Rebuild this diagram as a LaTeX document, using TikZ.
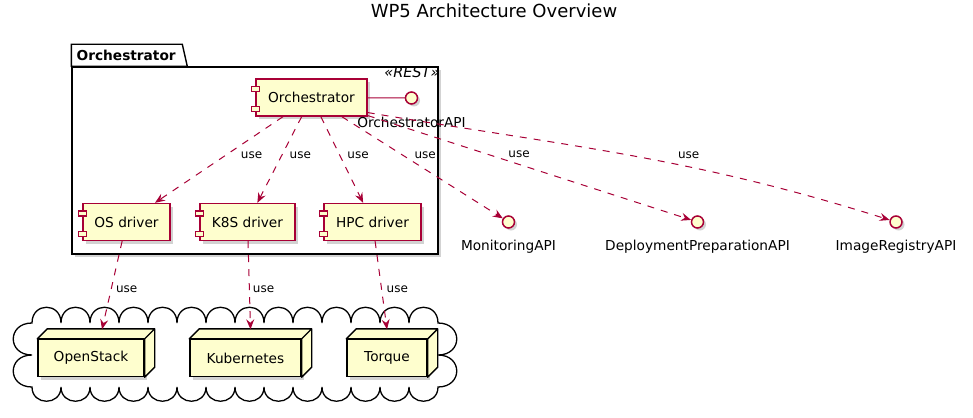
\documentclass[tikz,border=0pt]{standalone}
\usepackage{fontspec}
\setmainfont{DejaVu Sans}
\usepackage{tikz}
\usetikzlibrary{arrows.meta,shapes,positioning,shadows,calc}
\definecolor{umlred}{HTML}{A80036}
\definecolor{umlfill}{HTML}{FEFECE}
\newcommand{\umlfont}{\fontsize{13.7}{16}\selectfont}
% the two small boxes on the left edge of a component
\newcommand{\compports}[1]{%
  \draw[compport] ($(#1.north west)+(-4,8)$) rectangle ++(8,5)
                  ($(#1.south west)+(-4,-10)$) rectangle ++(8,5);}
% top and side faces of a 3d node
\newcommand{\nodedepth}[1]{%
  \draw[nodeside] (#1.north west) -- ++(10,-10) -- ($(#1.north east)+(10,-10)$)
      -- ($(#1.south east)+(10,-10)$) -- (#1.south east) -- (#1.north east) -- cycle
      (#1.north east) -- ++(10,-10);}
\tikzset{
    titlelbl/.style={
                font=\fontsize{18}{21}\selectfont
            },
    pkgbody/.style={
                draw=black,
                fill=white,
                line width=1.4pt,
                inner sep=0pt,
                drop shadow={opacity=0.35, shadow xshift=3pt, shadow yshift=-3pt}
            },
    pkgtab/.style={
                draw=black,
                fill=white,
                line width=1.4pt
            },
    pkgname/.style={
                anchor=west,
                inner sep=0pt,
                font=\umlfont\bfseries
            },
    stereo/.style={
                anchor=north east,
                inner sep=0pt,
                font=\fontsize{14.5}{17}\selectfont\itshape
            },
    component/.style={
                draw=umlred,
                fill=umlfill,
                line width=1.4pt,
                minimum height=37pt,
                inner sep=2pt,
                font=\umlfont,
                drop shadow={opacity=0.35, shadow xshift=3pt, shadow yshift=-3pt}
            },
    compport/.style={
                draw=umlred,
                fill=umlfill,
                line width=1.4pt
            },
    iface/.style={
                circle,
                draw=umlred,
                fill=umlfill,
                line width=1.5pt,
                minimum size=12pt,
                inner sep=0pt,
                drop shadow={opacity=0.35, shadow xshift=2.5pt, shadow yshift=-2.5pt}
            },
    apilabel/.style={
                inner sep=0pt,
                font=\umlfont
            },
    box3d/.style={
                draw=black,
                fill=umlfill,
                line width=1.4pt,
                minimum height=37pt,
                inner sep=2pt,
                font=\umlfont,
                drop shadow={opacity=0.35, shadow xshift=3pt, shadow yshift=-3pt}
            },
    nodeside/.style={
                draw=black,
                fill=umlfill,
                line width=1.4pt,
                line join=round
            },
    cloudline/.style={
                draw=black,
                fill=white,
                line width=1.3pt
            },
    ifaceline/.style={
                draw=umlred,
                line width=1pt
            },
    usearrow/.style={
                draw=umlred,
                line width=1pt,
                dash pattern=on 7pt off 7pt,
                -{Stealth[length=10pt, width=8pt, inset=3.5pt]}
            },
    uselbl/.style={
                inner sep=1pt,
                font=\fontsize{12}{14}\selectfont
            },
}
\begin{document}
\begin{tikzpicture}[x=1pt, y=-1pt]
\useasboundingbox (0,0) rectangle (973,417);
% Title
\node[titlelbl] (title) at (494,11) {WP5 Architecture Overview};
% Package
\node[pkgbody, minimum width=366pt, minimum height=187pt] (pkg) at (255,160.5) {};
\draw[pkgtab] (pkg.north west) -- ++(0,-22) -- ++(111,0) -- ++(5,22) -- cycle;
\node[pkgname] (pkg-name) at (76.5,55.5) {Orchestrator};
\node[stereo] (pkg-stereo) at ([xshift=1pt]pkg.north east) {«REST»};
% Components
\node[component, minimum width=111pt] (orch) at (311.5,97.5) {Orchestrator};
\node[component, minimum width=87pt] (osdrv) at (126.5,222) {OS driver};
\node[component, minimum width=95pt] (k8sdrv) at (247.5,222) {K8S driver};
\node[component, minimum width=97pt] (hpcdrv) at (372.5,222) {HPC driver};
\foreach \c in {orch,osdrv,k8sdrv,hpcdrv} {\compports{\c}}
% Interfaces
\node[iface] (orchapi) at (411.5,98) {};
\node[apilabel, below=12pt of orchapi] (orchapi-lbl) {OrchestratorAPI};
\node[iface] (monapi) at (508.5,222) {};
\node[apilabel, below=11.5pt of monapi] (monapi-lbl) {MonitoringAPI};
\node[iface] (depapi) at (697.5,222) {};
\node[apilabel, below=11.5pt of depapi] (depapi-lbl) {DeploymentPreparationAPI};
\node[iface] (imgapi) at (896,222) {};
\node[apilabel, below=11.5pt of imgapi] (imgapi-lbl) {ImageRegistryAPI};
% Cloud
\draw[cloudline] (32,323)
  foreach \i in {1,...,14} { .. controls +(0,-21) and +(0,-21) .. ++(29,0) }
  foreach \i in {1,2} { .. controls +(25,0) and +(25,0) .. ++(0,32) }
  foreach \i in {1,...,14} { .. controls +(0,19) and +(0,19) .. ++(-29,0) }
  foreach \i in {1,2} { .. controls +(-25,0) and +(-25,0) .. ++(0,-32) } -- cycle;
% Nodes
\node[box3d, minimum width=106pt] (openstack) at (91,358) {OpenStack};
\node[box3d, minimum width=111pt] (kube) at (245.5,358) {Kubernetes};
\node[box3d, minimum width=80pt] (torque) at (387,358) {Torque};
\foreach \n in {openstack,kube,torque} {\nodedepth{\n}}
\coordinate (openstack-top) at ($(openstack.north)+(11,-9.5)$);
\coordinate (kube-top) at ($(kube.north)+(5,-9.5)$);
\coordinate (torque-top) at ($(torque.north)+(0,-9.5)$);
% Connectors
\draw[ifaceline] (orch) -- (orchapi);
\draw[usearrow] (orch) -- node[uselbl, pos=0.45, right=14pt] (use-os) {use} (osdrv);
\draw[usearrow] (orch) -- node[uselbl, pos=0.45, right=6.5pt] (use-k8s) {use} (k8sdrv);
\draw[usearrow] (orch) -- node[uselbl, pos=0.45, right=6pt] (use-hpc) {use} (hpcdrv);
\draw[usearrow] (orch) -- node[uselbl, pos=0.38, right=10pt] (use-mon) {use} (monapi);
\draw[usearrow] (orch) -- node[uselbl, pos=0.468, above=5pt] (use-dep) {use} (depapi);
\draw[usearrow] (orch.-15) .. controls +(206,34.5) and +(-206,-65)
  .. node[uselbl, pos=0.62, above=7pt] (use-img) {use} (imgapi);
\draw[usearrow] (osdrv) -- node[uselbl, pos=0.55, right=3.5pt] (use-openstack) {use} (openstack-top);
\draw[usearrow] (k8sdrv) -- node[uselbl, pos=0.55, right=2pt] (use-kube) {use} (kube-top);
\draw[usearrow] (hpcdrv) -- node[uselbl, pos=0.55, right=3.5pt] (use-torque) {use} (torque-top);
\end{tikzpicture}
\end{document}
